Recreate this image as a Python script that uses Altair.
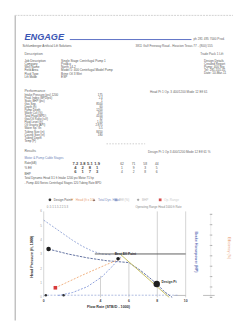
import altair as alt
import pandas as pd

FONT = "Liberation Sans"

# ---------------- document text ----------------
logo = "ENGAGE"
header_right = "ph 281 495 7000 Prod."
sub_left = "Schlumberger  Artificial  Lift  Solutions"
sub_right = "3811 Gulf Freeway Road - Houston Texas 77 - (800) 555"
desc_title = "Description"
desc_labels = ["Job Description", "Company", "Well Name", "Field Area", "Fluid Type", "Lift Mode"]
desc_values = ["Single Stage Centrifugal Pump 1", "Prodco", "North 14-2",
               "Model 5: 400 Centrifugal Model Pump", "Brine  Oil  3 Wet", "ESP"]
right_title = "Trade Pack 1 Lift"
right_lines = ["Design Details", "Created Report", "Pump: 400 Stg",
               "Tel: 281-555-01", "Date: 10-Mar-11"]
perf_title = "Performance"
perf_right = "Head Pt 1   Op. 3 400/1200  Mode 12  Eff 61"
perf_labels = ["Intake Pressure (psi)  1200", "Prod. Index (BPD/psi)", "Static BHP (psi)",
               "   Gas Sep.", "   Depth (ft)", "Pump Depth", "Water Cut (%)", "Total Fluid (BPD)",
               "Gas/Oil Ratio (scf)", "Fluid Level (ft)", "Oil Gravity (API)", "Water Sp. Gr.",
               "Tubing Size (in)", "Casing Size (in)", "Tubing Depth", "Temp (F)"]
perf_values = ["175", "2.4", "1", "", "", "8500", "60", "1200", "350", "4100",
               "32", "1.05", "2.875", "5.5", "8450", "180"]
results_title = "Results"
results_right = "Design Pt 1  Op 3  400/1200  Mode 12  Eff 61 %"
results_head = "Motor & Pump  Cable  Stages"
results_rows = ["Rate(kB)", "% Eff", "BHP"]
res_main = [["7.2", "3.8", "5.1", "1.9"], ["4", "2", "8", "1"], ["6", "1", "7", "3"]]
res_minor = [["62", "71", "58", "44"], ["1", "9", "3", "5"], ["4", "2", "8", "6"]]
foot_lines = ["Total Dynamic Head 3.1 ft  Intake 1200 psi  Motor 71 hp",
              "  - Pump 400 Series  Centrifugal  Stages 120  Tubing  Rate  BPD"]

# ---------------- chart data ----------------
legend_labels = ["Design Point", "Head (ft x 10)", "Total Dyn. Head", "Eff (%)", "BHP", "Op. Range"]
legend_marker_colors = ["#222222", "#e89a5a", "#555555", "#8fa0d0", "#999999", "#d23c3c"]
legend_text_colors = ["#555555", "#e8a070", "#8090c0", "#bbbbbb", "#bbbbbb", "#cccccc"]
legend_shapes = ["circle", "triangle-down", "triangle-up", "square", "diamond", "square"]

head_x = [0.0, 0.68, 1.36, 2.04, 2.72, 3.4, 4.08, 4.76]
head_y = [5.39, 4.92, 4.45, 3.98, 3.57, 3.24, 3.03, 2.97]
tdh_x = [0.34, 1.7, 3.06, 4.42, 5.99, 6.8, 7.48, 7.96, 8.5, 9.05]
tdh_y = [3.37, 3.03, 2.76, 2.56, 2.43, 1.89, 1.35, 0.94, 0.40, 0.0]
flat_x = [3.6, 10.0]
flat_y = [3.03, 3.03]
eff_x = [5.44, 8.84]
eff_y = [2.97, 0.0]
orange_x = [0.82, 2.72, 4.42, 5.44]
orange_y = [0.67, 1.55, 2.29, 2.70]
rise_x = [1.02, 2.04, 3.06, 4.08, 4.76, 5.44]
rise_y = [0.13, 0.34, 0.74, 1.42, 2.09, 2.83]
base_x = [0.0, 9.5]
base_y = [0.15, 0.15]
ref_x = [4, 6, 8]
ref_top = [1.5, 2.4, 6.0]
x_ticks = [0, 4, 6, 8, 10]
y_ticks = [0, 1, 2, 3, 4, 5, 6]
eff_ticks = [0, 10, 20, 30, 40, 50, 60, 70, 80]
points_x = [0.34, 5.24, 7.96]
points_y = [3.37, 2.70, 0.94]
points_size = [22, 14, 45]

W, H = 233, 318
X = alt.Scale(domain=[0, 10], range=[37, 184])
Y = alt.Scale(domain=[0, 6], range=[294, 205])
E = alt.Scale(domain=[0, 80], range=[294, 208])


def block(lines, x, y, size=3.2, lh=3.2, color="#666666", align="left", **kw):
    df = pd.DataFrame({"t": ["\n".join(lines)]})
    return alt.Chart(df).mark_text(align=align, baseline="top", fontSize=size, lineHeight=lh,
                                   lineBreak="\n", color=color, font=FONT, **kw).encode(
        x=alt.value(x), y=alt.value(y), text="t:N")


def hline(x1, x2, y, color="#cccccc", width=1, dash=None):
    kw = dict(color=color, strokeWidth=width)
    if dash:
        kw["strokeDash"] = dash
    return alt.Chart(pd.DataFrame({"a": [0]})).mark_rule(**kw).encode(
        x=alt.value(x1), x2=alt.value(x2), y=alt.value(y))


def vline(x, y1, y2, color="#cccccc", width=1):
    return alt.Chart(pd.DataFrame({"a": [0]})).mark_rule(color=color, strokeWidth=width).encode(
        x=alt.value(x), y=alt.value(y1), y2=alt.value(y2))


def curve(xs, ys, color, width=1.0, dash=None, opacity=1.0):
    kw = dict(color=color, strokeWidth=width, opacity=opacity)
    if dash:
        kw["strokeDash"] = dash
    return alt.Chart(pd.DataFrame({"flow": xs, "head": ys})).mark_line(**kw).encode(
        x=alt.X("flow:Q", scale=X, axis=None), y=alt.Y("head:Q", scale=Y, axis=None))


layers = []
# page frame
layers.append(vline(7.5, 2, 318, color="#bdbdbd", width=1.4))
layers.append(hline(7, 233, 2, color="#d0d0d0", width=1, dash=[2, 1]))
# header
layers.append(block([logo], 17, 19, size=9.5, lh=10, color="#3a55b4", fontWeight="bold", fontStyle="italic"))
layers.append(hline(64, 190, 27, color="#5a6fc4", width=1))
layers.append(block([header_right], 192, 24.5, size=3.2, color="#666666"))
layers.append(block([sub_left], 15, 31.5, size=3.2, color="#555555"))
layers.append(block([sub_right], 132, 31.5, size=3.2, color="#666666"))
# description
layers.append(block([desc_title], 17, 40, size=3.8, color="#666666"))
layers.append(block(desc_labels, 17, 47.5, size=3.2, lh=3.2, color="#555555"))
layers.append(block(desc_values, 55, 47.5, size=3.2, lh=3.2, color="#555555"))
layers.append(block([right_title], 199, 40.5, size=3.2, color="#666666"))
layers.append(block(right_lines, 203, 47.5, size=3.2, lh=3.1, color="#555555"))
# performance
layers.append(block([perf_title], 17, 78, size=3.8, color="#666666"))
layers.append(block([perf_right], 147, 79, size=3.2, color="#666666"))
layers.append(block(perf_labels, 17, 83.5, size=3.0, lh=3.15, color="#555555"))
layers.append(block(perf_values, 98, 83.5, size=3.0, lh=3.15, color="#555555", align="right"))
layers.append(hline(102, 142, 135, color="#cccccc", width=1, dash=[1.5, 1.5]))
# results
layers.append(block([results_title], 17, 140, size=3.6, color="#666666"))
layers.append(block([results_right], 145, 142, size=3.2, color="#666666"))
layers.append(block([results_head], 17, 148, size=3.2, color="#6d7fb8"))
layers.append(block(results_rows, 17, 152.4, size=3.2, lh=6, color="#555555"))

main_df = pd.DataFrame([{"c": c, "r": r, "v": res_main[r][c]}
                        for r in range(len(res_main)) for c in range(len(res_main[0]))])
layers.append(alt.Chart(main_df).mark_text(fontSize=4.2, fontWeight="bold", color="#4a4a4a", font=FONT).encode(
    x=alt.X("c:O", scale=alt.Scale(type="point", range=[66, 96]), axis=None),
    y=alt.Y("r:O", scale=alt.Scale(type="point", range=[154, 166]), axis=None),
    text="v:N"))
minor_df = pd.DataFrame([{"c": c, "r": r, "v": res_minor[r][c]}
                         for r in range(len(res_minor)) for c in range(len(res_minor[0]))])
layers.append(alt.Chart(minor_df).mark_text(fontSize=3.4, color="#555555", font=FONT).encode(
    x=alt.X("c:O", scale=alt.Scale(type="point", range=[112, 160]), axis=None),
    y=alt.Y("r:O", scale=alt.Scale(type="point", range=[154, 166]), axis=None),
    text="v:N"))
layers.append(block(foot_lines, 17, 169.5, size=3.0, lh=5, color="#555555"))

# legend row
leg_df = pd.DataFrame({"i": list(range(len(legend_labels))), "label": legend_labels,
                       "shape": legend_shapes})
leg_x = alt.Scale(type="point", domain=list(range(len(legend_labels))), range=[32, 169])
layers.append(alt.Chart(leg_df).mark_point(filled=True, size=8, opacity=0.9).encode(
    x=alt.X("i:O", scale=leg_x, axis=None), y=alt.value(193),
    color=alt.Color("label:N", scale=alt.Scale(domain=legend_labels, range=legend_marker_colors), legend=None),
    shape=alt.Shape("shape:N", scale=None)))
layers.append(alt.Chart(leg_df).mark_text(align="left", dx=4, fontSize=3.2, font=FONT).encode(
    x=alt.X("i:O", scale=leg_x, axis=None), y=alt.value(193),
    text="label:N",
    fill=alt.Fill("label:N", scale=alt.Scale(domain=legend_labels, range=legend_text_colors), legend=None)))
layers.append(block(["0  .5  1  1.5  2  2.5  3"], 40, 199.3, size=3.0, color="#888888"))
layers.append(block(["Operating Range  Head  1000 ft  Rate"], 132, 199.3, size=3.0, color="#888888"))

# plot frame and axes
frame_df = pd.DataFrame({"x": [0, 10], "y0": [0, 0], "y1": [6, 6]})
layers.append(alt.Chart(frame_df).mark_rule(color="#c8c8c8", strokeWidth=0.8).encode(
    x=alt.X("x:Q", scale=X, axis=None), y=alt.Y("y0:Q", scale=Y, axis=None), y2="y1:Q"))
ref_df = pd.DataFrame({"x": ref_x, "y0": [0] * len(ref_x), "y1": ref_top})
layers.append(alt.Chart(ref_df).mark_rule(color="#c4c4c4", strokeWidth=0.8).encode(
    x=alt.X("x:Q", scale=X, axis=None), y=alt.Y("y0:Q", scale=Y, axis=None), y2="y1:Q"))
xt_df = pd.DataFrame({"x": x_ticks, "lab": [str(v) for v in x_ticks]})
layers.append(alt.Chart(xt_df).mark_text(fontSize=3.5, fontWeight="bold", color="#444444", font=FONT).encode(
    x=alt.X("x:Q", scale=X, axis=None), y=alt.value(298), text="lab:N"))
yt_df = pd.DataFrame({"y": y_ticks, "lab": [str(v) for v in y_ticks]})
layers.append(alt.Chart(yt_df).mark_text(align="right", fontSize=3.0, color="#999999", font=FONT).encode(
    x=alt.value(35), y=alt.Y("y:Q", scale=Y, axis=None), text="lab:N"))
et_df = pd.DataFrame({"y": eff_ticks, "lab": [str(v) for v in eff_ticks]})
layers.append(alt.Chart(et_df).mark_rule(color="#888888", strokeWidth=0.8).encode(
    x=alt.value(209), x2=alt.value(211.5), y=alt.Y("y:Q", scale=E, axis=None)))
layers.append(vline(210, 208, 294, color="#dddddd", width=0.6))
layers.append(hline(202, 214, 292, color="#aaaaaa", width=0.8))
layers.append(hline(172, 184, 292, color="#aaaaaa", width=0.8))

layers.append(block(["Flow Rate (STB/D - 1000)"], 104, 302, size=3.8, color="#333333",
                    align="center", fontWeight="bold"))
layers.append(alt.Chart(pd.DataFrame({"t": ["Head Pressure (ft, 1000)"]})).mark_text(
    angle=270, fontSize=3.8, fontWeight="bold", color="#333333", font=FONT).encode(
    x=alt.value(25), y=alt.value(252), text="t:N"))
layers.append(alt.Chart(pd.DataFrame({"t": ["Brake Horsepower (HP)"]})).mark_text(
    angle=90, fontSize=3.8, fontWeight="bold", color="#5d6fb6", font=FONT).encode(
    x=alt.value(195), y=alt.value(247), text="t:N"))
layers.append(alt.Chart(pd.DataFrame({"t": ["Efficiency (%)"]})).mark_text(
    angle=90, fontSize=3.8, color="#e79a70", font=FONT).encode(
    x=alt.value(229), y=alt.value(243), text="t:N"))

# curves
layers.append(curve(base_x, base_y, "#9aaad8", 0.8, dash=[2, 1.5]))
layers.append(curve(head_x, head_y, "#8d9fd4", 0.9, dash=[2, 1.5]))
layers.append(curve(flat_x, flat_y, "#5c5c5c", 1.0))
layers.append(curve(tdh_x, tdh_y, "#5f6f9f", 1.0, dash=[2.5, 1.2]))
layers.append(curve(eff_x, eff_y, "#c8c060", 1.0))
layers.append(curve(orange_x, orange_y, "#f0b080", 1.0, dash=[2, 1.5]))
layers.append(curve(rise_x, rise_y, "#8da0dc", 1.0, dash=[2, 1.5]))

pt_df = pd.DataFrame({"flow": points_x, "head": points_y, "s": points_size})
layers.append(alt.Chart(pt_df).mark_circle(color="#1e1e1e", opacity=1).encode(
    x=alt.X("flow:Q", scale=X, axis=None), y=alt.Y("head:Q", scale=Y, axis=None),
    size=alt.Size("s:Q", scale=None, legend=None)))
layers.append(alt.Chart(pd.DataFrame({"flow": [orange_x[0]], "head": [orange_y[0]]})).mark_square(
    color="#d83a3a", size=14, opacity=1).encode(
    x=alt.X("flow:Q", scale=X, axis=None), y=alt.Y("head:Q", scale=Y, axis=None)))
layers.append(alt.Chart(pd.DataFrame({"flow": [0.15, 1.4], "head": [0.15, 0.15]})).mark_circle(
    color="#333333", size=6, opacity=1).encode(
    x=alt.X("flow:Q", scale=X, axis=None), y=alt.Y("head:Q", scale=Y, axis=None)))
lab_df = pd.DataFrame({"flow": [5.0, 8.3], "head": [3.03, 1.1], "t": ["Best Eff Point", "Design Pt"]})
layers.append(alt.Chart(lab_df).mark_text(align="left", fontSize=3.4, fontWeight="bold",
                                          color="#333333", font=FONT).encode(
    x=alt.X("flow:Q", scale=X, axis=None), y=alt.Y("head:Q", scale=Y, axis=None), text="t:N"))

chart = alt.layer(*layers).resolve_scale(
    x="independent", y="independent", color="independent", fill="independent"
).properties(
    width=W, height=H, autosize=alt.AutoSizeParams(type="none"), padding=0, background="white"
).configure_view(stroke=None)

chart.save("out.html", embed_options={"renderer": "svg", "actions": False})
